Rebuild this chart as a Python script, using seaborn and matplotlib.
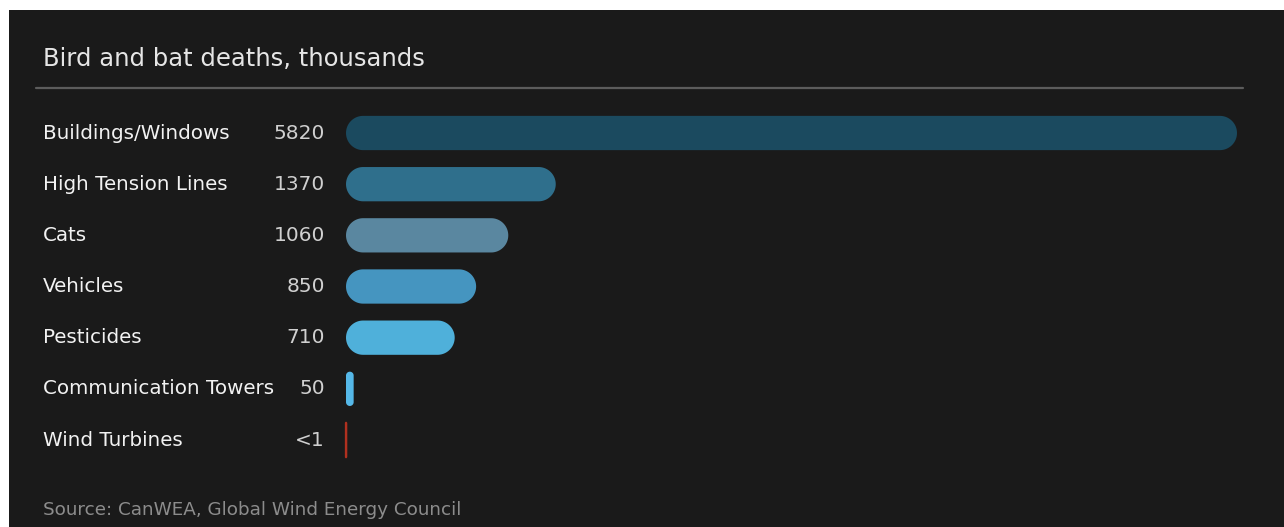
import matplotlib
matplotlib.use("Agg")
import matplotlib.pyplot as plt
import matplotlib.transforms as mtransforms
from matplotlib.patches import Polygon, Rectangle
from matplotlib.lines import Line2D
import seaborn as sns
import pandas as pd
import numpy as np

# ---- data ----
categories = ["Buildings/Windows", "High Tension Lines", "Cats", "Vehicles",
              "Pesticides", "Communication Towers", "Wind Turbines"]
values = [5820, 1370, 1060, 850, 710, 50, 0.5]
value_labels = ["5820", "1370", "1060", "850", "710", "50", "<1"]
colors = ["#1b4a5f", "#2f6f8c", "#5a87a0", "#4595c0", "#4fb0da", "#55b8e8", "#b0301f"]
title = "Bird and bat deaths, thousands"
source = "Source: CanWEA, Global Wind Energy Council"

W, H = 1284, 527
BG = "#1a1a1a"
FONT = ["DejaVu Sans"]

sns.set_theme(style="white")
plt.rcParams["font.family"] = FONT

fig = plt.figure(figsize=(W / 100, H / 100), dpi=100, facecolor="white")
fig.patches.append(Rectangle((9 / W, 0), 1, 1 - 10 / H, transform=fig.transFigure,
                             facecolor=BG, edgecolor="none", zorder=-10))

# axes placement (pixels)
x0_px, x1_px = 346, 1237
row0, rowN, n = 133, 440, len(categories)
step = (rowN - row0) / (n - 1)
top_px = row0 - step / 2
bot_px = rowN + step / 2
ax = fig.add_axes([x0_px / W, 1 - bot_px / H, (x1_px - x0_px) / W, (bot_px - top_px) / H])
ax.set_facecolor("none")
ax.set_zorder(5)

df = pd.DataFrame({"category": categories, "value": values})
sns.barplot(data=df, x="value", y="category", hue="category", palette=colors,
            legend=False, width=0.67, orient="h", ax=ax)
ax.set_xlim(0, values[0])
ax.set_ylim(n - 0.5, -0.5)
ax.axis("off")

# replace bars by rounded pills (true circular caps in pixel space)
pxx = (ax.transData.transform((1, 0))[0] - ax.transData.transform((0, 0))[0])
pxy = abs(ax.transData.transform((0, 1))[1] - ax.transData.transform((0, 0))[1])


def pill(x, y, w, h):
    r_px = min(w * pxx, h * pxy) / 2
    rx, ry = r_px / pxx, r_px / pxy
    pts = []
    centers = [(x + w - rx, y + ry, -90, 0), (x + w - rx, y + h - ry, 0, 90),
               (x + rx, y + h - ry, 90, 180), (x + rx, y + ry, 180, 270)]
    for cx, cy, a0, a1 in centers:
        t = np.radians(np.linspace(a0, a1, 24))
        pts.extend(zip(cx + rx * np.cos(t), cy + ry * np.sin(t)))
    return np.array(pts)


bars = list(ax.patches)
for p, col in zip(bars, colors):
    x, y, w, h = p.get_x(), p.get_y(), p.get_width(), p.get_height()
    p.remove()
    thin = w * pxx < 2
    poly = Polygon(pill(x, y, w, h), closed=True, facecolor=col,
                   edgecolor=col if thin else "none",
                   linewidth=1.6 if thin else 0, clip_on=False, zorder=3)
    ax.add_patch(poly)

# labels
tr = mtransforms.blended_transform_factory(fig.transFigure, ax.transData)
for i, (cat, lab) in enumerate(zip(categories, value_labels)):
    ax.text(43 / W, i, cat, transform=tr, ha="left", va="center",
            color="#f2f2f2", fontsize=14.3, family=FONT, clip_on=False)
    ax.text(325 / W, i, lab, transform=tr, ha="right", va="center",
            color="#d0d0d0", fontsize=14.5, family=FONT, clip_on=False)

fig.text(43 / W, 1 - 59 / H, title, ha="left", va="center", color="#e6e6e6",
         fontsize=17.5, family=FONT)
fig.lines.append(Line2D([36 / W, 1243 / W], [1 - 88 / H, 1 - 88 / H],
                        transform=fig.transFigure, color="#5c5c5c", linewidth=1.6))
fig.text(43 / W, 1 - 510 / H, source, ha="left", va="center", color="#8c8c8c",
         fontsize=13.2, family=FONT)

fig.savefig("out.png", dpi=100, facecolor=fig.get_facecolor())
